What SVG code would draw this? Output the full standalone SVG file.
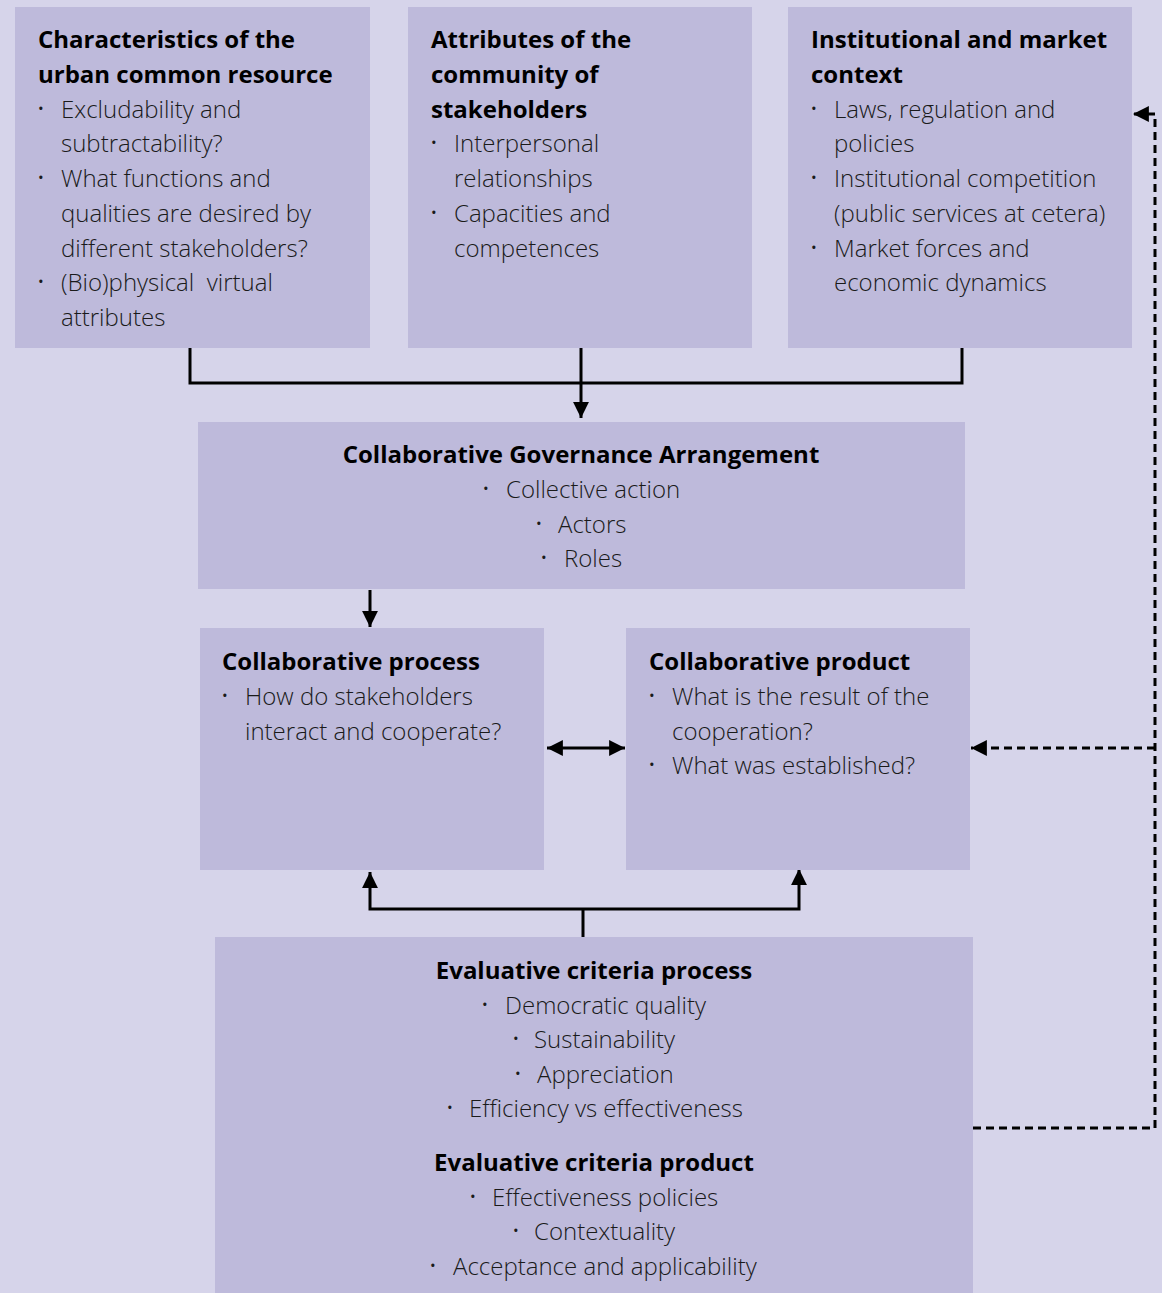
<svg xmlns="http://www.w3.org/2000/svg" width="1162" height="1293" viewBox="0 0 1162 1293">
<defs>
<style>
.bg{fill:#d6d4ea}
.box{fill:#bebadb}
text{font-family:"Open Sans","Noto Sans","Liberation Sans",sans-serif;font-size:24px;fill:#1a1a1a}
.t{font-weight:700;fill:#000}
.b{font-weight:300}
.d{font-size:15px}
.c{text-anchor:middle}
.ln{fill:none;stroke:#000;stroke-width:3}
.ds{fill:none;stroke:#000;stroke-width:3;stroke-dasharray:8,5}
</style>
<marker id="ah" viewBox="0 0 10 10" refX="10" refY="5" markerWidth="5.3" markerHeight="5.3" markerUnits="strokeWidth" orient="auto-start-reverse"><path d="M0,0L10,5L0,10z" fill="#000"/></marker>
</defs>
<rect class="bg" x="0" y="0" width="1162" height="1293"/>
<g id="connectors">
<polyline class="ln" points="190,348 190,383 962,383 962,348"/>
<line class="ln" x1="581" y1="348" x2="581" y2="418" marker-end="url(#ah)"/>
<line class="ln" x1="370" y1="590" x2="370" y2="627" marker-end="url(#ah)"/>
<line class="ln" x1="547" y1="748" x2="625" y2="748" marker-start="url(#ah)" marker-end="url(#ah)"/>
<polyline class="ln" points="370,872 370,909 799,909 799,869" marker-start="url(#ah)" marker-end="url(#ah)"/>
<line class="ln" x1="583" y1="909" x2="583" y2="937"/>
<polyline class="ds" points="973,1128 1155,1128 1155,114 1133,114" marker-end="url(#ah)"/>
<line class="ds" x1="1155" y1="748" x2="971" y2="748" marker-end="url(#ah)"/>
</g>
<g id="resource">
<rect class="box" x="15" y="7" width="355" height="341"/>
<text class="t" x="38" y="48">Characteristics of the</text>
<text class="t" x="38" y="83">urban common resource</text>
<text class="d" x="38" y="114">•</text><text class="b" x="61" y="118">Excludability and</text>
<text class="b" x="61" y="152">subtractability?</text>
<text class="d" x="38" y="183">•</text><text class="b" x="61" y="187">What functions and</text>
<text class="b" x="61" y="222">qualities are desired by</text>
<text class="b" x="61" y="257">different stakeholders?</text>
<text class="d" x="38" y="287">•</text><text class="b" x="61" y="291" xml:space="preserve">(Bio)physical  virtual</text>
<text class="b" x="61" y="326">attributes</text>
</g>
<g id="community">
<rect class="box" x="408" y="7" width="344" height="341"/>
<text class="t" x="431" y="48">Attributes of the</text>
<text class="t" x="431" y="83">community of</text>
<text class="t" x="431" y="118">stakeholders</text>
<text class="d" x="431" y="148">•</text><text class="b" x="454" y="152">Interpersonal</text>
<text class="b" x="454" y="187">relationships</text>
<text class="d" x="431" y="218">•</text><text class="b" x="454" y="222">Capacities and</text>
<text class="b" x="454" y="257">competences</text>
</g>
<g id="context">
<rect class="box" x="788" y="7" width="344" height="341"/>
<text class="t" x="811" y="48">Institutional and market</text>
<text class="t" x="811" y="83">context</text>
<text class="d" x="811" y="114">•</text><text class="b" x="834" y="118">Laws, regulation and</text>
<text class="b" x="834" y="152">policies</text>
<text class="d" x="811" y="183">•</text><text class="b" x="834" y="187">Institutional competition</text>
<text class="b" x="834" y="222">(public services at cetera)</text>
<text class="d" x="811" y="253">•</text><text class="b" x="834" y="257">Market forces and</text>
<text class="b" x="834" y="291">economic dynamics</text>
</g>
<g id="governance">
<rect class="box" x="198" y="422" width="767" height="167"/>
<text class="t c" x="581" y="463">Collaborative Governance Arrangement</text>
<text class="d" x="483" y="494">•</text><text class="b" x="506" y="498">Collective action</text>
<text class="d" x="536" y="529">•</text><text class="b" x="558" y="533">Actors</text>
<text class="d" x="541" y="563">•</text><text class="b" x="564" y="567">Roles</text>
</g>
<g id="process">
<rect class="box" x="200" y="628" width="344" height="242"/>
<text class="t" x="222" y="670">Collaborative process</text>
<text class="d" x="222" y="701">•</text><text class="b" x="245" y="705">How do stakeholders</text>
<text class="b" x="245" y="740">interact and cooperate?</text>
</g>
<g id="product">
<rect class="box" x="626" y="628" width="344" height="242"/>
<text class="t" x="649" y="670">Collaborative product</text>
<text class="d" x="649" y="701">•</text><text class="b" x="672" y="705">What is the result of the</text>
<text class="b" x="672" y="740">cooperation?</text>
<text class="d" x="649" y="770">•</text><text class="b" x="672" y="774">What was established?</text>
</g>
<g id="criteria">
<rect class="box" x="215" y="937" width="758" height="356"/>
<text class="t c" x="594" y="979">Evaluative criteria process</text>
<text class="d" x="482" y="1010">•</text><text class="b" x="505" y="1014">Democratic quality</text>
<text class="d" x="513" y="1044">•</text><text class="b" x="534" y="1048">Sustainability</text>
<text class="d" x="515" y="1079">•</text><text class="b" x="537" y="1083">Appreciation</text>
<text class="d" x="447" y="1113">•</text><text class="b" x="469" y="1117">Efficiency vs effectiveness</text>
<text class="t c" x="594" y="1171">Evaluative criteria product</text>
<text class="d" x="470" y="1202">•</text><text class="b" x="492" y="1206">Effectiveness policies</text>
<text class="d" x="513" y="1236">•</text><text class="b" x="534" y="1240">Contextuality</text>
<text class="d" x="430" y="1271">•</text><text class="b" x="453" y="1275">Acceptance and applicability</text>
</g>
</svg>
